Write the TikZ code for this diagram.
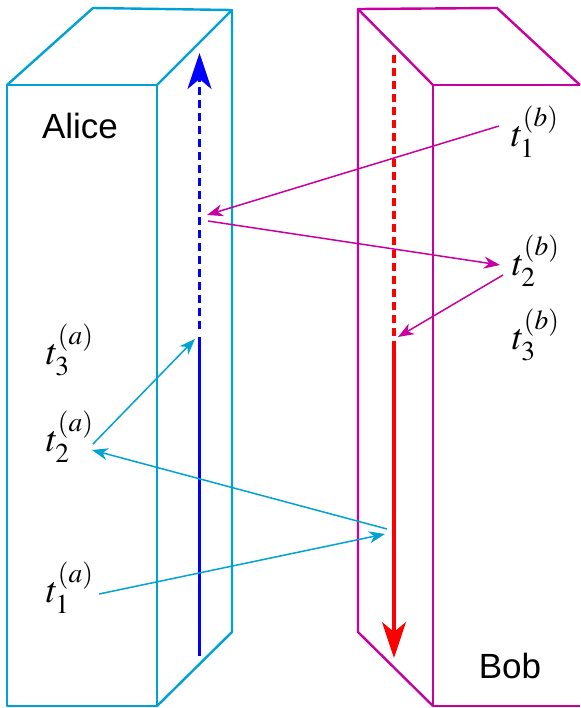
\documentclass[tikz,border=0pt]{standalone}
\usepackage{mathptmx}
\usepackage{fontspec}
\setmainfont{Liberation Sans}
\usetikzlibrary{arrows.meta}
\definecolor{alicecol}{RGB}{0,162,212}
\definecolor{bobcol}{RGB}{200,0,160}

\begin{document}
\begin{tikzpicture}[x=0.5pt, y=-0.5pt,
      boxline/.style={line width=1.2pt, line join=round},
      who/.style={font=\fontsize{17.5}{20}\selectfont, inner sep=0pt},
      tlab/.style={font=\fontsize{18.5}{20}\selectfont, inner sep=0pt},
      msg/.style={-{Stealth[length=8pt, width=6pt, inset=2.5pt]}, line width=0.75pt},
      life/.style={line width=1.6pt},
      lifearr/.style={life, -{Stealth[length=18pt, width=12pt, inset=5pt]}},
      dashline/.style={dash pattern=on 4pt off 2.5pt}]
    \useasboundingbox (0,0) rectangle (580,708);
    % Alice's box
    \draw[boxline, alicecol] (7,85) rectangle (157,706);
    \draw[boxline, alicecol] (7,85) -- (93,8) -- (232,10) -- (157,85)
          (232,10) -- (232,632) -- (157,706);
    % Bob's box
    \draw[boxline, bobcol] (580,85) -- (433,85) -- (433,706) -- (580,706);
    \draw[boxline, bobcol] (433,85) -- (358,9) -- (497,8) -- (580,85)
          (358,9) -- (358,632) -- (433,706);
    \node[who] (alice) at (80,126) {Alice};
    \node[who] (bob)   at (510,666) {Bob};
    % time lines
    \coordinate (atop) at (199.5,53);
    \coordinate (amid) at (199.5,337);
    \coordinate (abot) at (199.5,656);
    \coordinate (btop) at (394,55);
    \coordinate (bmid) at (394,341);
    \coordinate (bbot) at (394,658);
    \draw[life, blue] (abot) -- (amid);
    \draw[lifearr, blue, dashline] ([yshift=4pt]amid) -- (atop);
    \draw[life, red, dashline] (btop) -- ([yshift=2.5pt]bmid);
    \draw[lifearr, red] (bmid) -- (bbot);
    % instants
    \node[tlab] (t1b) at (535,132) {$t_1^{(b)}$};
    \node[tlab] (t2b) at (536,261) {$t_2^{(b)}$};
    \node[tlab] (t3b) at (536,335) {$t_3^{(b)}$};
    \node[tlab] (t3a) at (70,350) {$t_3^{(a)}$};
    \node[tlab] (t2a) at (70,437) {$t_2^{(a)}$};
    \node[tlab] (t1a) at (70,588) {$t_1^{(a)}$};
    % points on the time lines
    \coordinate (arecv)  at (207,215);
    \coordinate (asend)  at (208,221);
    \coordinate (anow)   at (195,339);
    \coordinate (bnow)   at (398,337);
    \coordinate (bsend)  at (387,529);
    \coordinate (brecv)  at (385,534);
    % messages
    \draw[msg, bobcol] ([shift={(-36,-6)}]t1b.center) -- (arecv);
    \draw[msg, bobcol] (asend) -- ([shift={(-36,4)}]t2b.center);
    \draw[msg, bobcol] ([shift={(-33,14)}]t2b.center) -- (bnow);
    \draw[msg, alicecol] ([shift={(29,6)}]t1a.center) -- (brecv);
    \draw[msg, alicecol] (bsend) -- ([shift={(22,13)}]t2a.center);
    \draw[msg, alicecol] ([shift={(23,7)}]t2a.center) -- (anow);
  \end{tikzpicture}
\end{document}
